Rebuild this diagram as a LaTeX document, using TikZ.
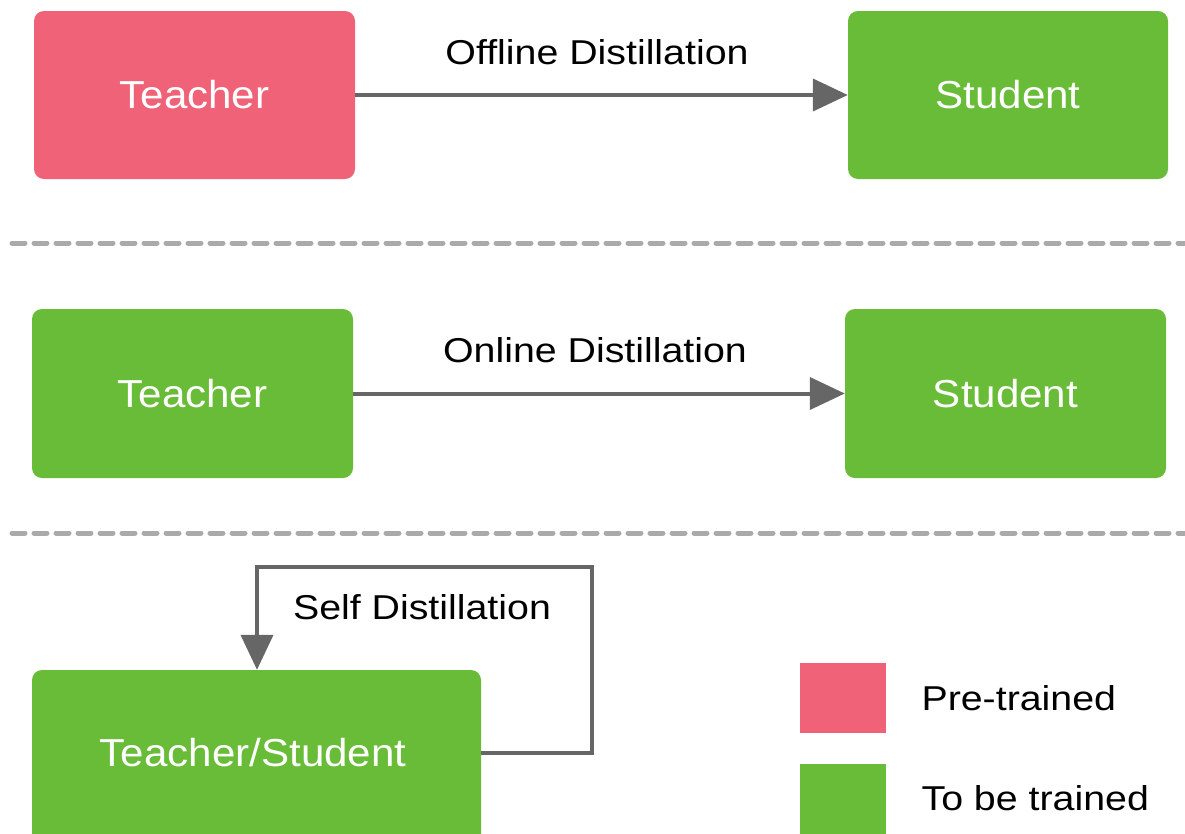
\documentclass[tikz,border=0pt]{standalone}
\usepackage{fontspec}
\setmainfont{Liberation Sans}
\newfontfamily\boxfont[FakeStretch=1.08]{Liberation Sans}
\newfontfamily\labelfont[FakeStretch=1.14]{Liberation Sans}
\usetikzlibrary{arrows.meta}
\definecolor{pink}{HTML}{F06277}
\definecolor{leaf}{HTML}{69BC37}
\definecolor{arrowgray}{HTML}{666666}
\definecolor{dashgray}{HTML}{AAAAAA}
\tikzset{
  block/.style={rounded corners=10pt, inner sep=0pt, text=white, font=\boxfont\fontsize{39}{44}\selectfont},
  pretrained/.style={block, fill=pink},
  trainable/.style={block, fill=leaf},
  flow/.style={draw=arrowgray, line width=4pt, -{Triangle[length=35pt, width=32pt]}},
  flowlabel/.style={font=\labelfont\fontsize{34.5}{40}\selectfont, text=black},
  divider/.style={draw=dashgray, line width=5pt, line cap=round, dash pattern=on 13pt off 9pt},
  legendtext/.style={font=\labelfont\fontsize{34.5}{40}\selectfont, text=black, anchor=west}
}
\begin{document}
\begin{tikzpicture}[x=1pt, y=-1pt]
  \useasboundingbox (0,0) rectangle (1185,833);
  \clip (0,0) rectangle (1185,833);

  % offline distillation
  \node[pretrained, minimum width=321pt, minimum height=168pt] (t1) at (194.5,95) {Teacher};
  \node[trainable, minimum width=320pt, minimum height=168pt] (s1) at (1008,95) {Student};
  \draw[flow] (t1.east) -- (s1.west);
  \node[flowlabel] (l1) at (597,52) {Offline Distillation};

  \coordinate (d1a) at (12,243);
  \coordinate (d1b) at (1185,243);
  \draw[divider] (d1a) -- (d1b);

  % online distillation
  \node[trainable, minimum width=321pt, minimum height=169pt] (t2) at (192.5,393.5) {Teacher};
  \node[trainable, minimum width=321pt, minimum height=169pt] (s2) at (1005.5,393.5) {Student};
  \draw[flow] (t2.east) -- (s2.west);
  \node[flowlabel] (l2) at (595,350) {Online Distillation};

  \coordinate (d2a) at (12,533);
  \coordinate (d2b) at (1185,533);
  \draw[divider] (d2a) -- (d2b);

  % self distillation
  \node[trainable, minimum width=449pt, minimum height=176pt] (ts) at (256.5,758) {};
  \node[block] (tslabel) at (253,753) {Teacher/Student};
  \coordinate (loopr) at (592,753);
  \coordinate (loopt) at (592,567);
  \coordinate (loopl) at (257,567);
  \draw[flow, -] (ts.east |- loopr) -- (loopr) -- (loopt) -- (loopl) -- ++(0,10);
  \draw[flow] (loopl) -- (loopl |- ts.north);
  \node[flowlabel] (l3) at (422,607) {Self Distillation};

  % legend
  \node[fill=pink, minimum width=86pt, minimum height=70pt, inner sep=0pt] (kp) at (843,698) {};
  \node[fill=leaf, minimum width=86pt, minimum height=80pt, inner sep=0pt] (kg) at (843,804) {};
  \node[legendtext] (kpt) at (918,698) {Pre-trained};
  \node[legendtext] (kgt) at (918,798) {To be trained};
\end{tikzpicture}
\end{document}
